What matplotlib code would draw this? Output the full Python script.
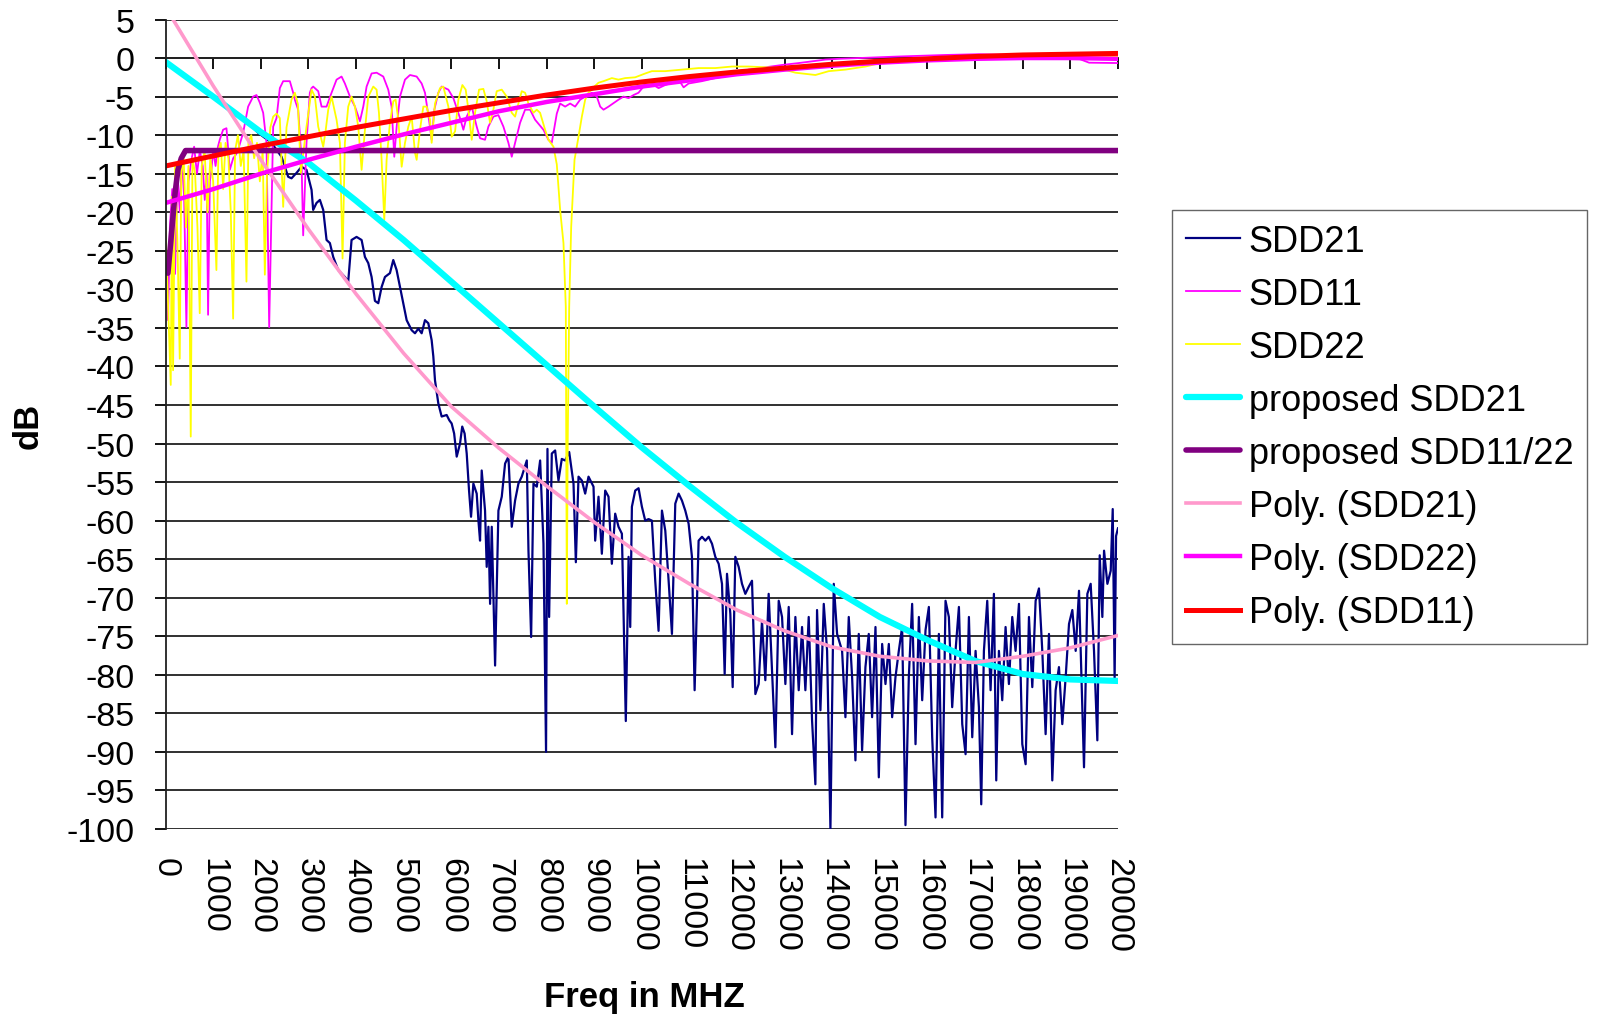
import matplotlib
matplotlib.use("Agg")
import matplotlib.pyplot as plt

plt.rcParams['font.family'] = ['Liberation Sans', 'DejaVu Sans']
plt.rcParams['axes.unicode_minus'] = False

# ---- measured data (MHz, dB) ----
sdd21_f = [0, 300, 600, 900, 1200, 1500, 1734, 1944, 2225, 2435, 2575, 2645, 2750, 2856, 2960,
           3066, 3100, 3170, 3241, 3311, 3381, 3451, 3521, 3626, 3766, 3836, 3906, 4011, 4117,
           4187, 4257, 4327, 4397, 4467, 4537, 4607, 4712, 4782, 4852, 4923, 4993, 5063, 5168,
           5238, 5308, 5378, 5448, 5518, 5588, 5623, 5658, 5728, 5798, 5903, 5960, 6008, 6060,
           6114, 6184, 6230, 6280, 6324, 6373, 6415, 6464, 6534, 6570, 6604, 6639, 6709, 6744,
           6780, 6815, 6850, 6920, 6990, 7060, 7130, 7200, 7270, 7340, 7410, 7480, 7586, 7621,
           7677, 7726, 7796, 7866, 7936, 7990, 8020, 8055, 8111, 8181, 8251, 8321, 8391, 8476,
           8567, 8616, 8672, 8742, 8812, 8882, 8987, 9022, 9092, 9162, 9232, 9302, 9372, 9442,
           9512, 9583, 9665, 9723, 9758, 9793, 9863, 9933, 10003, 10073, 10143, 10213, 10283,
           10353, 10424, 10494, 10564, 10634, 10704, 10774, 10844, 10914, 10984, 11054, 11110,
           11194, 11265, 11335, 11405, 11475, 11545, 11615, 11685, 11741, 11790, 11860, 11909,
           11965, 12035, 12105, 12175, 12245, 12315, 12386, 12455, 12525, 12595, 12665, 12806,
           12876, 12946, 13016, 13086, 13156, 13226, 13296, 13366, 13436, 13506, 13576, 13646,
           13681, 13752, 13822, 13892, 13962, 14032, 14102, 14207, 14277, 14347, 14417, 14487,
           14557, 14627, 14697, 14767, 14837, 14908, 14978, 15048, 15118, 15188, 15258, 15328,
           15398, 15468, 15538, 15608, 15678, 15749, 15819, 15889, 15959, 16029, 16099, 16169,
           16239, 16309, 16379, 16449, 16519, 16589, 16660, 16730, 16800, 16870, 16940, 17010,
           17080, 17129, 17185, 17255, 17325, 17395, 17444, 17500, 17570, 17640, 17710, 17780,
           17850, 17921, 17991, 18061, 18131, 18201, 18271, 18341, 18411, 18481, 18551, 18621,
           18691, 18761, 18831, 18902, 18972, 19042, 19112, 19182, 19287, 19357, 19427, 19497,
           19567, 19617, 19672, 19708, 19778, 19848, 19890, 19930, 19960, 20000]
sdd21_db = [-0.5, -1.8, -3.2, -4.6, -5.9, -7.3, -8.4, -9.7, -11.0, -12.8, -15.4, -15.6, -14.9, -14.1, -14.5,
            -17.1, -19.7, -18.8, -18.4, -19.7, -23.6, -24.0, -25.8, -27.5, -28.4, -29.0, -23.6, -23.2, -23.6,
            -25.8, -26.6, -28.4, -31.5, -31.8, -29.7, -28.4, -27.9, -26.2, -27.5, -29.7, -31.8, -34.0, -35.3,
            -35.7, -35.1, -35.7, -34.0, -34.4, -36.6, -38.7, -41.8, -44.8, -46.5, -46.3, -47.0, -47.4, -48.7,
            -51.7, -50.0, -47.8, -48.7, -51.3, -56.1, -59.5, -55.2, -56.5, -60.0, -62.6, -53.5, -58.7, -66.0,
            -60.8, -70.8, -60.8, -78.8, -58.7, -56.9, -52.6, -51.7, -60.8, -57.4, -55.2, -54.3, -52.2, -63.9,
            -75.1, -55.2, -55.6, -52.2, -63.0, -90.0, -50.7, -72.5, -51.3, -50.9, -54.8, -52.0, -52.2, -51.1,
            -55.2, -65.4, -54.3, -54.8, -56.5, -54.3, -55.6, -62.6, -56.9, -64.3, -56.1, -56.9, -65.6, -59.1,
            -60.8, -61.7, -86.0, -64.7, -73.8, -58.2, -56.1, -55.8, -58.2, -60.0, -59.8, -60.0, -67.8,
            -74.3, -58.7, -61.3, -67.8, -74.7, -57.8, -56.5, -57.4, -58.7, -60.4, -64.7, -82.0,
            -62.6, -62.1, -62.6, -62.1, -63.0, -64.7, -65.6, -68.2, -79.9, -66.9, -72.1, -81.6,
            -64.7, -66.0, -68.2, -69.5, -68.6, -67.8, -82.5, -81.2, -73.0, -80.7, -69.5, -89.4,
            -70.4, -72.5, -81.2, -71.2, -87.7, -72.5, -82.0, -73.8, -82.0, -72.5, -85.9, -94.2,
            -71.6, -84.6, -70.8, -76.9, -100.0, -68.2, -74.7, -76.9, -85.5, -72.5, -80.3, -91.1,
            -74.7, -89.8, -79.0, -74.7, -85.5, -73.8, -93.3, -76.0, -81.2, -76.0, -85.5, -80.3,
            -76.9, -73.8, -99.5, -80.3, -70.8, -89.0, -72.5, -83.3, -74.2, -71.2, -88.1, -98.5,
            -74.7, -98.5, -70.4, -72.5, -84.2, -76.9, -71.2, -86.4, -90.3, -72.5, -88.1, -76.9,
            -84.2, -96.8, -76.9, -70.4, -82.0, -69.5, -93.7, -76.9, -83.3, -73.8, -81.2, -72.5,
            -76.9, -70.8, -89.0, -91.6, -72.5, -81.6, -70.4, -68.8, -76.9, -87.7, -74.7, -93.7,
            -82.0, -79.0, -86.4, -80.3, -73.4, -71.6, -76.9, -69.1, -92.0, -69.5, -68.2, -76.9,
            -88.5, -64.5, -72.5, -63.9, -68.2, -66.5, -58.5, -80.5, -62.0, -61.0]

sdd11_f = [0, 52, 90, 140, 200, 250, 300, 340, 390, 438, 480, 543, 600, 660, 720, 780, 823, 863,
           893, 930, 963, 1000, 1050, 1100, 1138, 1208, 1279, 1349, 1420, 1480, 1524, 1629, 1734,
           1839, 1910, 1980, 2050, 2120, 2176, 2260, 2330, 2400, 2470, 2610, 2680, 2715, 2785,
           2855, 2890, 2960, 3030, 3066, 3100, 3206, 3276, 3381, 3486, 3591, 3696, 3766, 3872,
           3977, 4082, 4152, 4222, 4327, 4432, 4572, 4677, 4747, 4803, 4853, 4923, 5028, 5133,
           5273, 5378, 5448, 5532, 5588, 5644, 5728, 5798, 5939, 6044, 6184, 6254, 6324, 6429,
           6534, 6604, 6709, 6779, 6884, 6989, 7095, 7200, 7270, 7340, 7445, 7550, 7655, 7760,
           7935, 8040, 8110, 8216, 8286, 8391, 8496, 8601, 8706, 8811, 8951, 9056, 9127, 9197,
           9302, 9512, 9617, 9722, 9827, 9932, 10037, 10143, 10248, 10353, 10493, 10633, 10773,
           10879, 10984, 11265, 11545, 11890, 12245, 12596, 12946, 13296, 13857, 14137, 15398,
           16380, 17080, 17781, 18482, 19182, 19393, 20000]
sdd11_db = [-30, -34.0, -22, -17, -28, -15, -20, -13, -18, -34.9, -16, -13.2, -11.5, -15, -12, -14, -18.4, -15,
            -33.3, -16, -14.5, -12, -14, -11.5, -10.6, -9.3, -9.1, -14.5, -13, -12.5, -11.9, -9.7, -6.3,
            -5.0, -4.8, -5.8, -7.1, -11.0, -34.9, -8.9, -7.8, -3.9, -3.0, -3.0, -4.5, -5.4, -6.7,
            -13.2, -23.0, -11.0, -4.5, -3.9, -3.7, -4.3, -6.3, -6.3, -4.5, -2.8, -2.4, -3.3, -5.0,
            -6.3, -8.2, -6.3, -3.7, -2.0, -1.9, -2.4, -4.1, -6.3, -12.8, -8.9, -5.0, -2.8, -2.2,
            -2.4, -3.3, -4.5, -8.0, -10.6, -6.7, -4.5, -3.7, -4.1, -5.2, -7.8, -9.3, -7.6, -6.3,
            -8.9, -10.4, -10.6, -8.9, -7.6, -7.4, -8.9, -11.0, -12.8, -11.0, -8.4, -6.7, -6.7, -8.0,
            -9.3, -10.6, -11.0, -7.2, -5.9, -6.3, -5.9, -6.3, -5.4, -5.0, -4.5, -5.0, -6.3, -6.7,
            -6.3, -5.4, -5.0, -5.2, -4.8, -4.5, -3.7, -3.7, -3.5, -3.9, -3.5, -3.2, -2.8,
            -3.8, -3.3, -3.0, -2.6, -2.2, -1.5, -1.2, -0.9, -0.65, -0.2, -0.1, 0.2,
            0.4, 0.5, 0.4, 0.2, -0.1, -0.6, -0.65]

sdd22_f = [0, 60, 109, 135, 158, 200, 250, 298, 330, 380, 430, 480, 529, 565, 620, 670, 718, 760,
           820, 880, 940, 1000, 1068, 1110, 1160, 1210, 1260, 1320, 1370, 1419, 1460, 1520, 1580,
           1640, 1699, 1740, 1800, 1860, 1920, 1980, 2040, 2085, 2130, 2200, 2260, 2330, 2400,
           2470, 2540, 2645, 2715, 2780, 2841, 2960, 3066, 3136, 3206, 3276, 3311, 3360, 3416,
           3486, 3591, 3661, 3717, 3766, 3836, 3906, 3977, 4047, 4117, 4187, 4257, 4362, 4432,
           4481, 4537, 4593, 4642, 4712, 4783, 4831, 4888, 4958, 5028, 5098, 5168, 5238, 5273,
           5343, 5413, 5483, 5553, 5588, 5658, 5763, 5833, 5939, 6009, 6080, 6149, 6233, 6303,
           6359, 6429, 6499, 6583, 6674, 6744, 6814, 6884, 6954, 7060, 7165, 7270, 7340, 7410,
           7480, 7550, 7620, 7725, 7795, 7865, 7970, 8040, 8146, 8216, 8286, 8356, 8405, 8426,
           8445, 8476, 8518, 8588, 8672, 8742, 8812, 8881, 8952, 9092, 9197, 9372, 9512, 9653,
           9862, 10073, 10213, 10493, 10844, 11194, 11545, 11895, 12245, 12600, 12876, 13226,
           13647, 13927, 14277, 14697, 14978, 15398, 16029, 17080, 17781, 18762, 19182, 20000]
sdd22_db = [-22, -33, -42.4, -18, -40.5, -14, -24, -39.0, -15, -13, -22, -14, -49.1, -13, -15, -22, -33.1, -14,
            -12, -20, -13, -16, -27.5, -12, -11, -17, -11, -13, -20, -33.8, -12, -10, -14,
            -12, -29.0, -11, -10, -13, -11, -16, -12, -28.1, -15, -9, -7.6, -7.2, -7.8,
            -19.3, -9, -5.4, -4.5, -6, -14.9, -8.9, -4.1, -5.0, -8.9, -10.6, -11.5, -9.5, -6.7,
            -5.0, -8.0, -11.0, -26, -11.0, -6.3, -5.0, -6.3, -8.9, -14.5, -9.3, -5.0, -3.7, -4.1,
            -7.1, -13.2, -21.0, -13.2, -8.4, -5.6, -5.4, -8.0, -14.1, -11.0, -8.9, -7.6, -12.3, -13.2,
            -9.3, -6.3, -6.3, -8.0, -11.0, -5.9, -3.9, -3.7, -6.3, -10.2, -9.5, -5.4, -3.5, -4.1,
            -6.7, -10.6, -7.1, -4.1, -4.0, -5.6, -8.4, -6.7, -4.3, -4.1, -5.0, -7.1, -7.6, -5.9,
            -4.3, -4.5, -5.9, -7.1, -6.7, -7.1, -9.3, -10.6, -11.5, -13.8, -19.7, -24.0, -32.3, -70.8,
            -50, -32.3, -21.9, -13.2, -10.2, -7.6, -5.4, -4.5, -4.0, -3.2, -3.0, -2.6, -2.8, -2.6,
            -2.5, -2.0, -1.7, -1.7, -1.5, -1.3, -1.3, -1.1, -1.1, -1.2, -1.3, -1.9,
            -2.2, -1.7, -1.5, -1.1, -0.7, -0.2, 0.0, 0.1, 0.2, 0.0, 0.0, 0.2]

# proposed limit lines
prop21_f = list(range(0, 20001, 1000))
prop21_db = [-0.5, -5.0, -9.6, -13.6, -18.5, -23.6, -29.0, -34.4, -39.8, -45.2, -50.5,
             -55.5, -60.3, -64.7, -68.8, -72.5, -75.5, -78.2, -79.9, -80.6, -80.8]
prop1122_f = [50, 100, 150, 200, 260, 330, 420, 20000]
prop1122_db = [-27.9, -24.5, -21.0, -17.5, -14.5, -13.0, -12.0, -12.0]

# polynomial trend lines
poly_f = list(range(0, 20001, 1000))
poly21_db = [6.6, -3.6, -13.2, -22.2, -30.6, -38.3, -45.2, -50.6, -55.5, -60.2, -64.5,
             -68.2, -71.6, -74.3, -76.4, -77.6, -78.2, -78.4, -77.6, -76.5, -74.9]
poly22_db = [-18.8, -17.0, -15.0, -13.2, -11.5, -9.9, -8.4, -6.9, -5.7, -4.7, -3.7,
             -2.9, -2.1, -1.5, -1.0, -0.6, -0.3, -0.1, 0.0, 0.0, -0.1]
poly11_db = [-14.0, -12.7, -11.4, -10.2, -9.0, -7.9, -6.8, -5.8, -4.8, -3.9, -3.1,
             -2.4, -1.8, -1.3, -0.8, -0.4, -0.1, 0.2, 0.4, 0.5, 0.6]

x_ticks = list(range(0, 20001, 1000))
y_ticks = list(range(-100, 6, 5))

fig = plt.figure(figsize=(15.98, 10.2), dpi=100)
ax = fig.add_axes([0.1036, 0.1863, 0.596, 0.7936])

ax.plot(sdd21_f, sdd21_db, color='#000080', lw=1.6, label='SDD21')
ax.plot(sdd11_f, sdd11_db, color='#FF00FF', lw=1.3, label='SDD11')
ax.plot(sdd22_f, sdd22_db, color='#FFFF00', lw=1.3, label='SDD22')
ax.plot(prop21_f, prop21_db, color='#00FFFF', lw=4.5, label='proposed SDD21',
        solid_capstyle='round')
ax.plot(prop1122_f, prop1122_db, color='#800080', lw=4.0, label='proposed SDD11/22',
        solid_capstyle='round')
ax.plot(poly_f, poly21_db, color='#FF99CC', lw=2.6, label='Poly. (SDD21)')
ax.plot(poly_f, poly22_db, color='#FF00FF', lw=3.2, label='Poly. (SDD22)')
ax.plot(poly_f, poly11_db, color='#FF0000', lw=3.6, label='Poly. (SDD11)')

ax.set_xlim(0, 20000)
ax.set_ylim(-100, 5)
ax.set_yticks(y_ticks)
ax.set_yticklabels([str(v) for v in y_ticks])
ax.set_xticks(x_ticks)
ax.set_xticklabels([str(v) for v in x_ticks], rotation=-90)
ax.yaxis.grid(True, color='#202020', lw=1.3)
ax.set_axisbelow(True)
for s in ['top', 'right', 'bottom']:
    ax.spines[s].set_visible(False)
ax.spines['left'].set_color('#202020')
ax.spines['left'].set_linewidth(1.3)
ax.tick_params(axis='y', labelsize=24.5, length=8, width=1.3, pad=14)
ax.tick_params(axis='x', labelsize=24.5, length=0, pad=20)

# x axis line with its tick marks crosses at 0 dB
sec = ax.secondary_xaxis(100 / 105)
sec.set_xticks(x_ticks)
sec.tick_params(direction='in', length=8, width=1.3, labeltop=False, labelbottom=False)
for s in sec.spines.values():
    s.set_linewidth(1.3)
    s.set_color('#202020')

fig.text(0.0178, 0.5824, 'dB', rotation=90, fontsize=25, fontweight='bold',
         ha='center', va='center')
fig.text(0.403, 0.0225, 'Freq in MHZ', fontsize=25, fontweight='bold',
         ha='center', va='center')

leg = fig.legend(loc='upper left', bbox_to_anchor=(0.7334, 0.7931), fontsize=26,
                 frameon=True, fancybox=False, edgecolor='#404040', handlelength=1.5,
                 handletextpad=0.25, labelspacing=0.5, borderpad=0.38, borderaxespad=0)
leg.get_frame().set_linewidth(1.0)

fig.savefig('out.png', dpi=100)
